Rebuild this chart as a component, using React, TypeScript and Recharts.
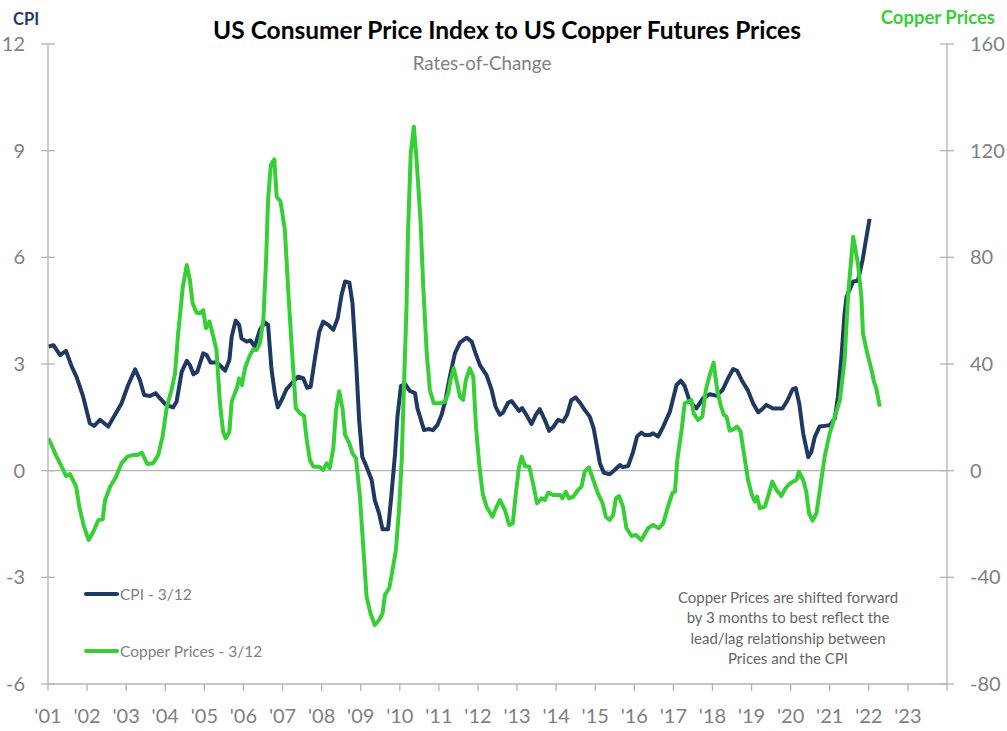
import React from 'react';
import { LineChart, Line, XAxis, YAxis, ReferenceLine, Legend } from 'recharts';

// ---- Data (decimal years) ----
const cpiDates = [
  2001.01, 2001.14, 2001.31, 2001.46, 2001.61, 2001.73, 2001.90, 2002.07, 2002.18, 2002.33,
  2002.54, 2002.67, 2002.88, 2003.05, 2003.23, 2003.35, 2003.46, 2003.61, 2003.75, 2003.86,
  2004.02, 2004.20, 2004.29, 2004.42, 2004.55, 2004.63, 2004.72, 2004.82, 2004.97, 2005.06,
  2005.16, 2005.31, 2005.44, 2005.53, 2005.64, 2005.70, 2005.80, 2005.89, 2005.95, 2006.08,
  2006.18, 2006.29, 2006.42, 2006.55, 2006.63, 2006.72, 2006.81, 2006.88, 2006.98, 2007.10,
  2007.27, 2007.40, 2007.53, 2007.63, 2007.72, 2007.83, 2007.94, 2008.04, 2008.17, 2008.30,
  2008.41, 2008.51, 2008.60, 2008.71, 2008.79, 2008.88, 2008.96, 2009.04, 2009.15, 2009.28,
  2009.36, 2009.47, 2009.56, 2009.70, 2009.79, 2009.88, 2009.94, 2010.03, 2010.13, 2010.26,
  2010.39, 2010.45, 2010.53, 2010.62, 2010.73, 2010.85, 2010.96, 2011.07, 2011.17, 2011.28,
  2011.41, 2011.54, 2011.71, 2011.84, 2011.94, 2012.05, 2012.22, 2012.35, 2012.45, 2012.56,
  2012.64, 2012.77, 2012.86, 2012.97, 2013.05, 2013.13, 2013.24, 2013.37, 2013.48, 2013.58,
  2013.71, 2013.82, 2013.92, 2014.05, 2014.18, 2014.28, 2014.39, 2014.50, 2014.61, 2014.73,
  2014.86, 2014.96, 2015.03, 2015.12, 2015.22, 2015.37, 2015.50, 2015.63, 2015.71, 2015.84,
  2015.97, 2016.07, 2016.18, 2016.27, 2016.40, 2016.48, 2016.61, 2016.74, 2016.91, 2017.08,
  2017.19, 2017.29, 2017.42, 2017.59, 2017.76, 2017.93, 2018.10, 2018.26, 2018.40, 2018.53,
  2018.63, 2018.77, 2018.91, 2019.04, 2019.17, 2019.29, 2019.38, 2019.55, 2019.79, 2019.91,
  2020.05, 2020.13, 2020.22, 2020.32, 2020.45, 2020.53, 2020.62, 2020.74, 2020.87, 2021.00,
  2021.13, 2021.21, 2021.30, 2021.38, 2021.43, 2021.60, 2021.72, 2021.84, 2021.94, 2022.02,
];
const cpiValues = [
  3.49, 3.53, 3.25, 3.37, 2.92, 2.64, 2.08, 1.33, 1.26, 1.43,
  1.24, 1.49, 1.89, 2.41, 2.85, 2.55, 2.13, 2.10, 2.18, 2.04,
  1.85, 1.78, 1.94, 2.78, 3.09, 2.97, 2.71, 2.78, 3.30, 3.25,
  3.04, 3.04, 2.92, 2.81, 3.11, 3.77, 4.22, 4.10, 3.72, 3.63,
  3.66, 3.49, 3.96, 4.17, 4.10, 2.83, 2.13, 1.78, 1.99, 2.29,
  2.50, 2.64, 2.60, 2.33, 2.36, 3.16, 3.91, 4.19, 4.10, 3.96,
  4.28, 4.94, 5.32, 5.29, 4.71, 3.11, 1.43, 0.39, 0.11, -0.26,
  -0.83, -1.20, -1.65, -1.65, -0.64, 0.49, 1.52, 2.38, 2.44, 2.24,
  2.18, 1.76, 1.47, 1.14, 1.17, 1.14, 1.28, 1.57, 1.99, 2.64,
  3.30, 3.60, 3.74, 3.63, 3.30, 2.97, 2.69, 2.27, 1.80, 1.57,
  1.63, 1.91, 1.96, 1.80, 1.68, 1.76, 1.57, 1.31, 1.57, 1.73,
  1.43, 1.12, 1.22, 1.43, 1.38, 1.57, 1.99, 2.06, 1.91, 1.71,
  1.52, 1.19, 0.77, 0.21, -0.06, -0.10, 0.02, 0.16, 0.10, 0.13,
  0.53, 0.96, 1.07, 1.00, 1.00, 1.05, 0.96, 1.24, 1.66, 2.41,
  2.53, 2.38, 1.94, 1.75, 2.04, 2.15, 2.11, 2.27, 2.60, 2.86,
  2.81, 2.50, 2.25, 1.89, 1.64, 1.75, 1.85, 1.75, 1.75, 1.96,
  2.29, 2.32, 1.89, 1.05, 0.38, 0.53, 0.96, 1.24, 1.26, 1.28,
  1.47, 2.08, 3.21, 4.43, 4.89, 5.32, 5.34, 5.92, 6.58, 7.08,
];

const copperDates = [
  2001.01, 2001.09, 2001.22, 2001.35, 2001.46, 2001.56, 2001.72, 2001.80, 2001.92, 2002.04,
  2002.16, 2002.29, 2002.40, 2002.46, 2002.59, 2002.74, 2002.88, 2003.03, 2003.18, 2003.29,
  2003.40, 2003.54, 2003.69, 2003.82, 2003.93, 2004.04, 2004.16, 2004.25, 2004.33, 2004.45,
  2004.55, 2004.63, 2004.70, 2004.80, 2004.89, 2004.97, 2005.04, 2005.13, 2005.23, 2005.31,
  2005.40, 2005.48, 2005.55, 2005.64, 2005.70, 2005.83, 2005.89, 2005.96, 2006.04, 2006.15,
  2006.25, 2006.34, 2006.42, 2006.51, 2006.58, 2006.63, 2006.70, 2006.79, 2006.85, 2006.95,
  2007.06, 2007.15, 2007.23, 2007.34, 2007.45, 2007.55, 2007.62, 2007.70, 2007.79, 2007.94,
  2008.04, 2008.13, 2008.21, 2008.30, 2008.37, 2008.45, 2008.54, 2008.60, 2008.71, 2008.79,
  2008.88, 2008.98, 2009.06, 2009.15, 2009.25, 2009.36, 2009.47, 2009.56, 2009.62, 2009.73,
  2009.83, 2009.90, 2009.98, 2010.05, 2010.10, 2010.17, 2010.21, 2010.28, 2010.36, 2010.43,
  2010.53, 2010.60, 2010.69, 2010.77, 2010.87, 2011.03, 2011.15, 2011.24, 2011.30, 2011.38,
  2011.47, 2011.54, 2011.62, 2011.69, 2011.79, 2011.88, 2011.95, 2012.03, 2012.12, 2012.22,
  2012.37, 2012.46, 2012.56, 2012.69, 2012.80, 2012.89, 2012.97, 2013.05, 2013.12, 2013.20,
  2013.31, 2013.41, 2013.51, 2013.63, 2013.71, 2013.80, 2013.92, 2014.10, 2014.16, 2014.25,
  2014.33, 2014.44, 2014.56, 2014.65, 2014.73, 2014.84, 2014.95, 2015.07, 2015.19, 2015.27,
  2015.37, 2015.46, 2015.53, 2015.61, 2015.71, 2015.80, 2015.93, 2016.04, 2016.18, 2016.35,
  2016.48, 2016.63, 2016.74, 2016.86, 2016.98, 2017.04, 2017.10, 2017.21, 2017.29, 2017.38,
  2017.46, 2017.52, 2017.63, 2017.74, 2017.83, 2017.93, 2018.03, 2018.12, 2018.21, 2018.29,
  2018.36, 2018.44, 2018.53, 2018.63, 2018.72, 2018.83, 2018.91, 2019.01, 2019.08, 2019.14,
  2019.21, 2019.34, 2019.42, 2019.53, 2019.64, 2019.76, 2019.87, 2019.96, 2020.06, 2020.15,
  2020.21, 2020.32, 2020.40, 2020.47, 2020.56, 2020.66, 2020.76, 2020.87, 2021.00, 2021.13,
  2021.26, 2021.38, 2021.47, 2021.60, 2021.72, 2021.81, 2021.85, 2021.96, 2022.07, 2022.13,
  2022.19, 2022.28,
];
const copperValues = [
  12.1, 9.6, 5.25, 1.5, -2.0, -1.25, -6, -13.5, -21, -26,
  -22.9, -18.5, -18.2, -11, -6, -2.25, 2.75, 5.25, 5.9, 5.9,
  6.75, 2.5, 2.75, 5.9, 12.75, 24, 30.25, 36.5, 51.5, 69,
  77.1, 71.5, 62.75, 59.25, 59, 60.25, 53.4, 55.9, 50.25, 45.25,
  25.25, 14.6, 12.1, 14.6, 25.9, 30.9, 34.6, 32.1, 38.4, 42.75,
  45.5, 45.25, 47.75, 56.5, 79, 101.5, 114.6, 116.75, 102.75, 100.9,
  90.25, 66.5, 47.75, 23.4, 21.5, 20.5, 11.5, 4, 1.5, 1.5,
  0.25, 2.75, 0.9, 8.5, 22.75, 29.8, 22.75, 13.4, 10.25, 6.5,
  4.6, -9.75, -27.25, -47.25, -53.5, -57.9, -56, -53.5, -46.6, -44.1,
  -36, -29.75, -14.75, 4, 29, 60.25, 89, 119, 129, 116.5,
  94, 69, 44, 30.25, 25.25, 25.25, 25.9, 29, 34, 38.4,
  32.75, 27.75, 26.5, 34, 38.4, 35.25, 16.5, 2.75, -8.5, -13.5,
  -17.25, -14.1, -11, -14.75, -20.4, -19.75, -8.5, 1.5, 5.25, 1.75,
  1.5, -4.75, -12.25, -10.4, -11, -8.25, -9.1, -9.1, -10.4, -7.9,
  -10.4, -9.75, -7.25, -6, -0.4, 1.25, -3.5, -8.5, -12.25, -17.25,
  -18.5, -16.6, -10.4, -9.5, -13.5, -21.6, -24.5, -24.1, -26, -21.6,
  -20.4, -21.6, -19.75, -13.5, -8.25, -7.9, 4, 15.25, 25.25, 25.9,
  26.5, 21.5, 19, 20.25, 30.25, 35.9, 40.5, 30.25, 24.6, 20.9,
  20.25, 15, 15.5, 16.5, 14.6, 4, -3.5, -9.1, -11.6, -9.75,
  -14.1, -13.5, -9.75, -4.1, -7.25, -9.5, -6.6, -5.1, -4.1, -3.5,
  -0.4, -3.5, -7.9, -16, -18.75, -16, -6, 5.25, 14, 20.25,
  26.5, 41.5, 66, 87.75, 77.75, 65.25, 51.5, 44, 37.75, 33.4,
  30.9, 24,
];

const yearTicks = [
  2001, 2002, 2003, 2004, 2005, 2006, 2007, 2008, 2009, 2010, 2011, 2012,
  2013, 2014, 2015, 2016, 2017, 2018, 2019, 2020, 2021, 2022, 2023, 2024,
];
const yearLabels = [
  "'01", "'02", "'03", "'04", "'05", "'06", "'07", "'08", "'09", "'10", "'11", "'12",
  "'13", "'14", "'15", "'16", "'17", "'18", "'19", "'20", "'21", "'22", "'23", "",
];
const cpiTicks = [-6, -3, 0, 3, 6, 9, 12];
const copperTicks = [-80, -40, 0, 40, 80, 120, 160];

const noteLines = [
  'Copper Prices are shifted forward',
  'by 3 months to best reflect the',
  'lead/lag relationship between',
  'Prices and the CPI',
];

const cpiData = cpiDates.map((d, i) => ({ date: d, cpi: cpiValues[i] }));
const copperData = copperDates.map((d, i) => ({ date: d, copper: copperValues[i] }));

const FONT = "Lato, 'Open Sans', 'DejaVu Sans', sans-serif";
const NAVY = '#1F3864';
const GREEN = '#36CF36';
const AXIS = '#B3B3B3';
const TICKTEXT = '#808080';

const XTick = (props: any) => {
  const { x, y, payload } = props;
  const idx = yearTicks.indexOf(payload.value);
  const label = idx >= 0 ? yearLabels[idx] : '';
  return (
    <g>
      <line x1={x} x2={x} y1={y - 7} y2={y} stroke={AXIS} strokeWidth={1.3} />
      <text x={x} y={y + 32} textAnchor="middle" fill={TICKTEXT} fontSize={20} fontFamily={FONT}>
        {label}
      </text>
    </g>
  );
};

const LeftTick = (props: any) => {
  const { x, y, payload } = props;
  return (
    <g>
      <line x1={x} x2={x + 14} y1={y} y2={y} stroke={AXIS} strokeWidth={1.3} />
      <text x={x - 16} y={y + 7} textAnchor="end" fill={TICKTEXT} fontSize={20} fontFamily={FONT}>
        {payload.value}
      </text>
    </g>
  );
};

const RightTick = (props: any) => {
  const { x, y, payload } = props;
  return (
    <g>
      <line x1={x - 14} x2={x} y1={y} y2={y} stroke={AXIS} strokeWidth={1.3} />
      <text x={x + 16} y={y + 7} textAnchor="start" fill={TICKTEXT} fontSize={20} fontFamily={FONT}>
        {payload.value}
      </text>
    </g>
  );
};

const LegendContent = (props: any) => {
  const { payload } = props;
  return (
    <svg width={240} height={90} style={{ display: 'block' }}>
      {(payload || []).map((entry: any, i: number) => (
        <g key={i}>
          <line x1={6} x2={37} y1={14 + i * 57} y2={14 + i * 57} stroke={entry.color} strokeWidth={4} strokeLinecap="round" />
          <text x={40} y={20 + i * 57} fill={TICKTEXT} fontSize={15.5} fontFamily={FONT}>
            {entry.value}
          </text>
        </g>
      ))}
    </svg>
  );
};

export default function App() {
  return (
    <div style={{ position: 'absolute', left: 0, top: 0, width: 1007, height: 731, background: '#fff' }}>
      <LineChart width={1007} height={731} margin={{ top: 44, right: 0, bottom: 0, left: 0 }}>
        <XAxis
          xAxisId="x"
          type="number"
          dataKey="date"
          domain={[2001, 2024]}
          ticks={yearTicks}
          interval={0}
          allowDataOverflow
          height={47}
          tickSize={7}
          tickMargin={0}
          tickLine={false}
          axisLine={{ stroke: AXIS, strokeWidth: 1.3 }}
          tick={<XTick />}
        />
        <YAxis
          yAxisId="cpi"
          orientation="left"
          domain={[-6, 12]}
          ticks={cpiTicks}
          interval={0}
          width={48}
          tickSize={7}
          tickMargin={0}
          tickLine={false}
          axisLine={{ stroke: AXIS, strokeWidth: 1.3 }}
          tick={<LeftTick />}
          allowDataOverflow
        />
        <YAxis
          yAxisId="copper"
          orientation="right"
          domain={[-80, 160]}
          ticks={copperTicks}
          interval={0}
          width={60}
          tickSize={7}
          tickMargin={0}
          tickLine={false}
          axisLine={{ stroke: AXIS, strokeWidth: 1.3 }}
          tick={<RightTick />}
          allowDataOverflow
        />
        <ReferenceLine xAxisId="x" yAxisId="cpi" y={0} stroke={AXIS} strokeWidth={1.3} />
        <Line
          xAxisId="x"
          yAxisId="cpi"
          data={cpiData}
          dataKey="cpi"
          name="CPI - 3/12"
          type="linear"
          stroke={NAVY}
          strokeWidth={4}
          strokeLinejoin="round"
          dot={false}
          activeDot={false}
          isAnimationActive={false}
        />
        <Line
          xAxisId="x"
          yAxisId="copper"
          data={copperData}
          dataKey="copper"
          name="Copper Prices - 3/12"
          type="linear"
          stroke={GREEN}
          strokeWidth={4}
          strokeLinejoin="round"
          dot={false}
          activeDot={false}
          isAnimationActive={false}
        />
        <Legend
          layout="vertical"
          align="center"
          verticalAlign="middle"
          content={<LegendContent />}
          wrapperStyle={{ position: 'absolute', left: 80, top: 580, width: 240, height: 90 }}
        />
      </LineChart>
      <svg
        width={1007}
        height={731}
        style={{ position: 'absolute', left: 0, top: 0, pointerEvents: 'none' }}
      >
        <text x={507} y={39} textAnchor="middle" fontSize={24.5} fontWeight={700} fill="#000" fontFamily={FONT}>
          US Consumer Price Index to US Copper Futures Prices
        </text>
        <text x={482} y={70} textAnchor="middle" fontSize={18.8} fill={TICKTEXT} fontFamily={FONT}>
          Rates-of-Change
        </text>
        <text x={13} y={25} fontSize={16.5} fontWeight={700} fill={NAVY} fontFamily={FONT}>
          CPI
        </text>
        <text x={995} y={24} textAnchor="end" fontSize={18.5} fontWeight={700} fill={GREEN} fontFamily={FONT}>
          Copper Prices
        </text>
        {noteLines.map((t, i) => (
          <text key={i} x={788} y={603 + i * 20.3} textAnchor="middle" fontSize={15} fill="#666" fontFamily={FONT}>
            {t}
          </text>
        ))}
      </svg>
    </div>
  );
}
